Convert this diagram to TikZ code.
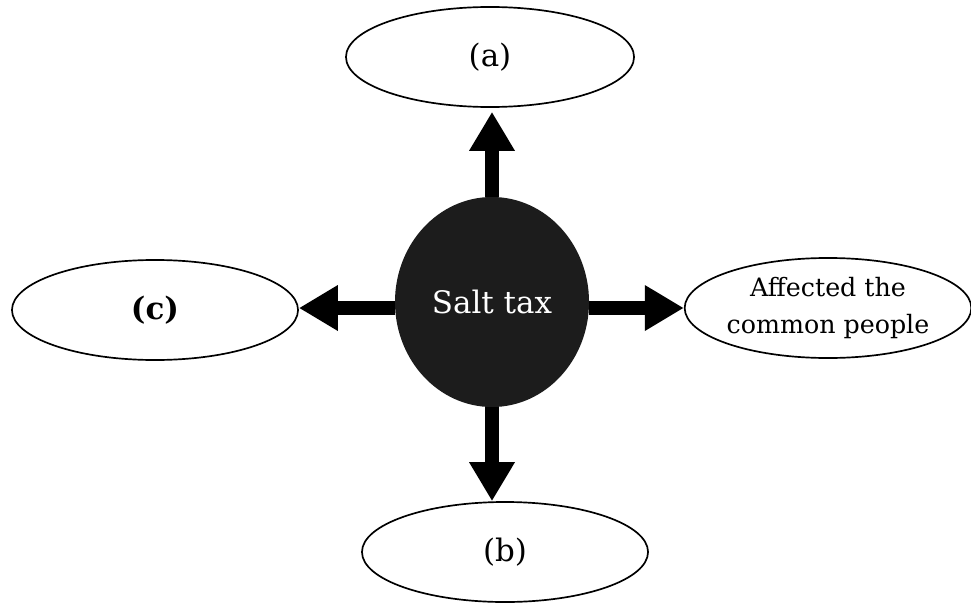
\documentclass[tikz,border=0pt]{standalone}
\usepackage{fontspec}
\setmainfont{DejaVu Serif}
\usetikzlibrary{shapes.geometric, arrows.meta}
\definecolor{saltgray}{RGB}{28,28,28}

\begin{document}
\begin{tikzpicture}[x=0.025cm, y=-0.025cm]
	\tikzset{bubble/.style={draw, ellipse, line width=1.2pt, inner sep=0pt, minimum width=7.2cm, minimum height=2.5cm, align=center, font=\fontsize{22}{26}\selectfont}}
	\tikzset{edge/.style={-{Triangle[width=1.075cm, length=0.975cm]}, line width=0.35cm}}
	
	\useasboundingbox (0,0) rectangle (971,604);
	
	\node(salt) at (492,302) [ellipse, fill=saltgray, inner sep=0pt, minimum width=4.85cm, minimum height=5.25cm, text=white, font=\fontsize{22}{26}\selectfont] {Salt tax};
	
	\node(a) at (490,57) [bubble] {(a)};
	\node(b) at (505,552) [bubble, minimum width=7.15cm] {(b)};
	\node(c) at (155,310) [bubble, minimum width=7.15cm] {\bfseries(c)};
	\node(aff) at (828,308) [bubble, minimum width=7.05cm, font=\fontsize{18}{26}\selectfont] {Affected the\\common people};
	
	\draw[edge, shorten >=0.1cm] (salt.north) -- (salt.north |- a.south);
	\draw[edge] (salt.south) -- (salt.south |- b.north);
	\draw[edge] (salt.west |- aff.west) -- (c.east |- aff.west);
	\draw[edge] (salt.east |- aff.west) -- (aff.west);
	
\end{tikzpicture}
\end{document}
